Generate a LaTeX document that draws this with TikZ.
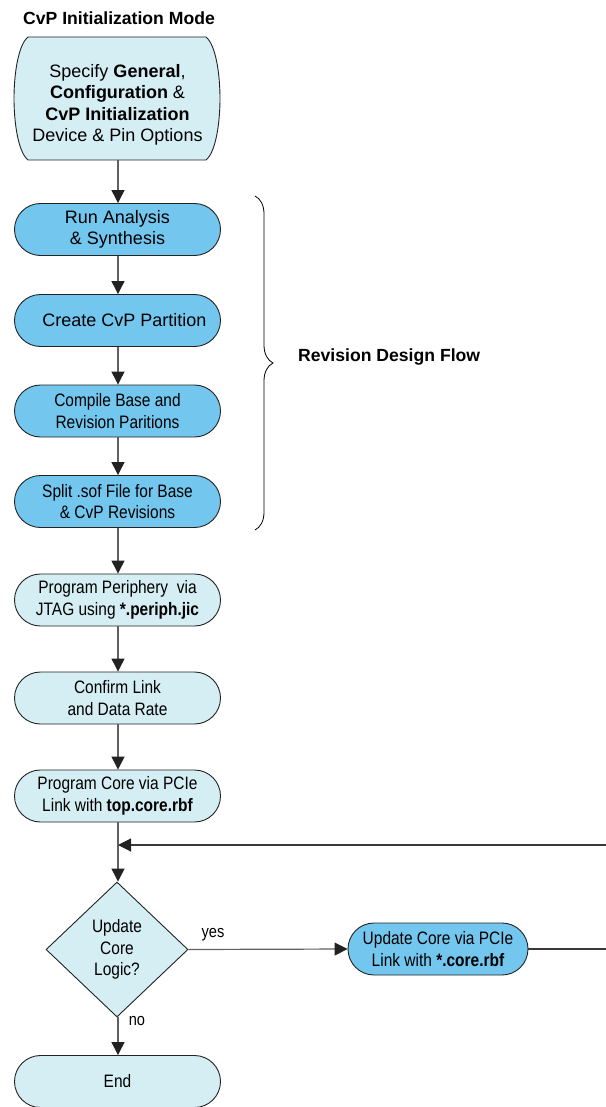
\documentclass[tikz,border=0pt]{standalone}
\usepackage{fontspec}
\setmainfont{Liberation Sans}
\newfontfamily\narrowfont[FakeStretch=0.86]{Liberation Sans}
\usetikzlibrary{arrows.meta,shapes.misc,shapes.geometric,decorations.pathreplacing}
\definecolor{lightfill}{HTML}{D5EEF4}
\definecolor{bluefill}{HTML}{73C7EF}
\definecolor{edgecol}{HTML}{222222}
\definecolor{linecol}{HTML}{606060}
\begin{document}
\begin{tikzpicture}[x=1pt,y=1pt,
  term/.style={rounded rectangle, draw=edgecol, line width=0.9pt, minimum width=206pt, minimum height=52pt, inner sep=0pt, align=center, text=black},
  lightbox/.style={term, fill=lightfill},
  bluebox/.style={term, fill=bluefill},
  shapeedge/.style={draw=edgecol, line width=0.9pt},
  regtext/.style={font=\fontsize{18}{21.5}\selectfont},
  nartext/.style={font=\narrowfont\fontsize{18}{21.5}\selectfont},
  flow/.style={draw=linecol, line width=1.2pt, -{Triangle[length=13pt,width=13pt,color=edgecol]}},
  lbl/.style={font=\narrowfont\fontsize{17}{20}\selectfont, inner sep=0pt}
]
\useasboundingbox (0,0) rectangle (605,-1107);

\node[font=\fontsize{17.6}{21}\selectfont\bfseries] (title) at (119,-18) {CvP Initialization Mode};

% first (tall) terminator with flat-arc ends
\path[shapeedge, fill=lightfill] (28,-37) -- (206,-37)
  .. controls (216,-45) and (220,-75) .. (220,-98.5)
  .. controls (220,-122) and (216,-152) .. (206,-160)
  -- (28,-160)
  .. controls (18,-152) and (14,-122) .. (14,-98.5)
  .. controls (14,-75) and (18,-45) .. (28,-37) -- cycle;
\node[regtext, align=center, inner sep=0pt, minimum width=206pt, minimum height=123pt] (b1) at (117.5,-98.5) {};
\node[regtext, align=center, inner sep=0pt] (b1txt) at (117.5,-105)
  {Specify \textbf{General},\\ \textbf{Configuration} \&\\ \textbf{CvP Initialization}\\ Device \& Pin Options};

\node[bluebox, regtext] (b2) at (117.5,-229.5) {Run Analysis\\ \& Synthesis};
\node[bluebox, regtext] (b3) at (117.5,-320.5) {\hspace{14pt}Create CvP Partition};
\node[bluebox, nartext] (b4) at (117.5,-411) {Compile Base and\\ Revision Paritions};
\node[bluebox, nartext] (b5) at (117.5,-501.5) {Split .sof File for Base\\ \& CvP Revisions};
\node[lightbox, nartext] (b6) at (117.5,-600) {Program Periphery~ via\\ JTAG using \textbf{*.periph.jic}};
\node[lightbox, nartext] (b7) at (117.5,-698) {Confirm Link\\ and Data Rate};
\node[lightbox, nartext] (b8) at (117.5,-796) {Program Core via PCIe\\ Link with \textbf{top.core.rbf}};
\node[diamond, draw=edgecol, line width=0.9pt, fill=lightfill, minimum width=142pt, minimum height=135pt, inner sep=0pt, aspect=1.05, nartext, align=center] (dec) at (117,-949.5) {Update\\ Core\\ Logic?};
\node[bluebox, nartext, minimum width=180pt] (upd) at (438,-949) {Update Core via PCIe\\ Link with \textbf{*.core.rbf}};
\node[lightbox, nartext] (endn) at (117.5,-1081.5) {End};

\node[font=\fontsize{17.6}{21}\selectfont\bfseries, anchor=west, inner sep=0pt] (rdf) at (298,-357) {Revision Design Flow};
\coordinate (brtop) at (255,-196);
\coordinate (brbot) at (255,-530);
\draw[black, line width=0.8pt, decorate, decoration={brace, amplitude=18pt}] (brtop) -- (brbot);

\coordinate (join) at (118,-845);
\coordinate (outr) at (615,-949);

\draw[flow] (b1.south -| 118,0) -- (b2.north -| 118,0);
\draw[flow] (b2.south -| 118,0) -- (b3.north -| 118,0);
\draw[flow] (b3.south -| 118,0) -- (b4.north -| 118,0);
\draw[flow] (b4.south -| 118,0) -- (b5.north -| 118,0);
\draw[flow] (b5.south -| 118,0) -- (b6.north -| 118,0);
\draw[flow] (b6.south -| 118,0) -- (b7.north -| 118,0);
\draw[flow] (b7.south -| 118,0) -- (b8.north -| 118,0);
\draw[flow] (b8.south -| 118,0) -- (dec.north -| 118,0);
\draw[flow] (dec.south -| 118,0) -- (endn.north -| 118,0);
\draw[flow] (dec.east) -- (upd.west);
\draw[line width=1.1pt, draw=edgecol!90, -{Triangle[length=13pt,width=13pt,color=edgecol]}] (upd.east) -- (outr) |- (join);

\node[lbl] (yes) at (213,-935) {yes};
\node[lbl] (no) at (137,-1021) {no};
\end{tikzpicture}
\end{document}
